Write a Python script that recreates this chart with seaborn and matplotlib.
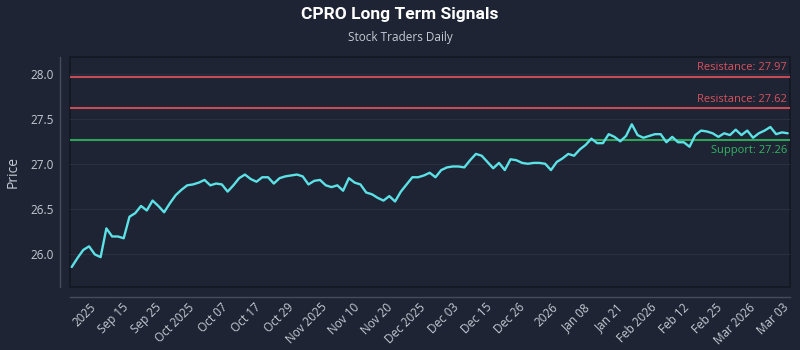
import numpy as np
import pandas as pd
import matplotlib
matplotlib.use("Agg")
import matplotlib.pyplot as plt
import matplotlib.transforms as mtransforms
import seaborn as sns

# ---------------- data ----------------
prices = [
    25.85, 25.95, 26.04, 26.08, 25.99, 25.96, 26.28, 26.19, 26.19, 26.17,
    26.41, 26.45, 26.53, 26.48, 26.59, 26.53, 26.46, 26.56, 26.65, 26.71,
    26.76, 26.77, 26.79, 26.82, 26.76, 26.78, 26.77, 26.69, 26.76, 26.84,
    26.88, 26.83, 26.80, 26.85, 26.85, 26.78, 26.84, 26.86, 26.87, 26.88,
    26.86, 26.77, 26.81, 26.82, 26.76, 26.74, 26.76, 26.70, 26.84, 26.79,
    26.77, 26.68, 26.66, 26.62, 26.59, 26.64, 26.58, 26.69, 26.77, 26.85,
    26.85, 26.87, 26.90, 26.85, 26.93, 26.96, 26.97, 26.97, 26.96, 27.04,
    27.11, 27.09, 27.02, 26.95, 27.01, 26.93, 27.05, 27.04, 27.01, 27.00,
    27.01, 27.01, 27.00, 26.93, 27.02, 27.06, 27.11, 27.09, 27.16, 27.21,
    27.28, 27.23, 27.23, 27.33, 27.30, 27.25, 27.31, 27.44, 27.32, 27.29,
    27.31, 27.33, 27.33, 27.24, 27.30, 27.24, 27.24, 27.19, 27.32, 27.37,
    27.36, 27.34, 27.30, 27.34, 27.32, 27.38, 27.32, 27.37, 27.29, 27.34,
    27.37, 27.41, 27.33, 27.35, 27.34,
]
tick_labels = [
    "2025", "Sep 15", "Sep 25", "Oct 2025", "Oct 07", "Oct 17", "Oct 29",
    "Nov 2025", "Nov 10", "Nov 20", "Dec 2025", "Dec 03", "Dec 15", "Dec 26",
    "2026", "Jan 08", "Jan 21", "Feb 2026", "Feb 12", "Feb 25", "Mar 2026",
    "Mar 03",
]
resistance_levels = [27.97, 27.62]
support_levels = [27.26]
title = "CPRO Long Term Signals"
subtitle = "Stock Traders Daily"
y_label = "Price"

# ---------------- style ----------------
BG = "#1e2433"
GRID = "#2a3041"
SPINE = "#454c5c"
TXT = "#c5cad3"
LINE = "#5ce1e6"
RED_LINE = "#c44c57"
RED_TXT = "#d9535f"
GREEN_LINE = "#2ea35a"
GREEN_TXT = "#33b463"

sns.set_theme(style="dark")
plt.rcParams["font.family"] = ["Open Sans", "DejaVu Sans"]

fig = plt.figure(figsize=(8, 3.5), dpi=100, facecolor=BG)
ax = fig.add_axes([70 / 800, 1 - 287 / 350, 720 / 800, 230 / 350])
ax.set_facecolor(BG)
ax.patch.set_edgecolor("#131720")
ax.patch.set_linewidth(1.2)

df = pd.DataFrame({"idx": np.arange(len(prices)), "price": prices})
sns.lineplot(data=df, x="idx", y="price", ax=ax, color=LINE, linewidth=1.7, zorder=5)

trans = mtransforms.blended_transform_factory(ax.transAxes, ax.transData)
for r in resistance_levels:
    ax.axhline(r, color=RED_LINE, lw=1.5, zorder=3)
    ax.annotate(f"Resistance: {r:.2f}", xy=(0.996, r), xycoords=trans,
                xytext=(0, 2.5), textcoords="offset points",
                ha="right", va="bottom", color=RED_TXT, fontsize=8)
for s in support_levels:
    ax.axhline(s, color=GREEN_LINE, lw=1.5, zorder=3)
    ax.annotate(f"Support: {s:.2f}", xy=(0.996, s), xycoords=trans,
                xytext=(0, -3.5), textcoords="offset points",
                ha="right", va="top", color=GREEN_TXT, fontsize=8)

ax.set_xlim(-0.3, len(prices) - 1 + 0.4)
ax.set_ylim(25.627, 28.19)
yt = [26.0, 26.5, 27.0, 27.5, 28.0]
ax.set_yticks(yt)
ax.set_yticklabels([f"{v:.1f}" for v in yt])
ax.set_xticks(np.linspace(3.0, 123.0, len(tick_labels)))
ax.set_xticklabels(tick_labels)

ax.grid(axis="y", color=GRID, lw=0.8)
ax.grid(axis="x", visible=False)
ax.tick_params(axis="both", length=0, colors=TXT, labelsize=8.5)
ax.tick_params(axis="x", pad=3, labelrotation=45)
ax.tick_params(axis="y", pad=5)

ax.set_xlabel("")
ax.set_ylabel(y_label, color=TXT, fontsize=10)
ax.yaxis.set_label_coords(-0.068, 0.5)

sns.despine(ax=ax, offset=7)
for side in ("left", "bottom"):
    ax.spines[side].set_color(SPINE)
    ax.spines[side].set_linewidth(1.0)

for lab in ax.get_xticklabels():
    lab.set_horizontalalignment("right")
    lab.set_rotation_mode("anchor")

fig.text(0.5, 1 - 15 / 350, title, ha="center", va="center",
         fontsize=12.5, fontweight="bold", color="white",
         family=["Roboto", "DejaVu Sans"])
fig.text(0.5, 1 - 38 / 350, subtitle, ha="center", va="center",
         fontsize=8.5, color=TXT)

fig.savefig("out.png", dpi=100, facecolor=BG)
